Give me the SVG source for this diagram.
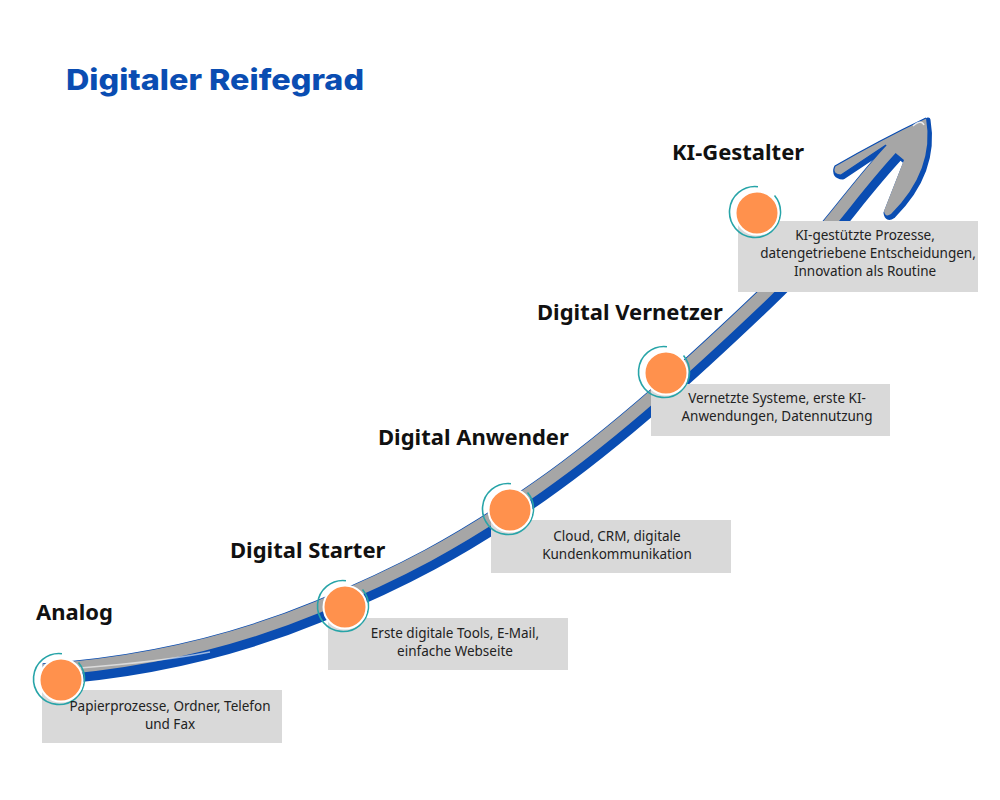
<svg xmlns="http://www.w3.org/2000/svg" width="1000" height="800" viewBox="0 0 1000 800">
<defs>
<style>
.title{font-family:Inter,"Liberation Sans",sans-serif;font-weight:800;font-size:29px;fill:#0a4db2}
.lbl{font-family:"Noto Sans","Liberation Sans",sans-serif;font-weight:700;font-size:22px;fill:#111}
.box{fill:#d9d9d9}
.txt{font-family:"Noto Sans","Liberation Sans",sans-serif;font-size:13.5px;fill:#222;text-anchor:middle}
.dot{fill:#ff914d;stroke:#fff;stroke-width:2}
.ring{fill:none;stroke:#27a4a8;stroke-width:1.6}
</style>
<path id="curve" d="M 45 675 C 150 668, 240 645, 320 612 S 460 548, 540 492 S 700 362, 765 300 C 830 238, 850 200, 897 150"/>
<path id="head" d="M 926 118 Q 880 140 835 166 Q 831 174 841 175 L 886 145 L 904 160 L 884 211 Q 885 218 891 214 Q 935 170 926 118 Z"/>
</defs>
<rect width="1000" height="800" fill="#fff"/>
<text class="title" x="66" y="90" textLength="298" lengthAdjust="spacingAndGlyphs">Digitaler Reifegrad</text>

<g id="connectors">
  <use href="#curve" fill="none" stroke="#0a4db2" stroke-width="20"/>
  <use href="#head" transform="translate(2,2)" fill="#0a4db2" stroke="#0a4db2" stroke-width="5" stroke-linejoin="round"/>
  <g transform="translate(-2,-5)">
    <use href="#curve" fill="none" stroke="#0a4db2" stroke-width="13.5"/>
    <use href="#curve" fill="none" stroke="#a6a6a6" stroke-width="12"/>
  </g>
  <use href="#head" fill="#a6a6a6"/>
  <path d="M 926 118 Q 880 140 835 166 Q 831 174 841 175 L 886 145" fill="none" stroke="#0a4db2" stroke-width="1.2" stroke-linejoin="round"/>
  <path d="M 80 668 C 130 664, 170 660, 210 652" fill="none" stroke="#fff" stroke-opacity="0.6" stroke-width="1.5"/>
  <path d="M 913 126 Q 921 119 924 125" fill="none" stroke="#fff" stroke-opacity="0.8" stroke-width="1.5"/>
</g>

<g id="node-analog">
  <text class="lbl" x="36" y="620">Analog</text>
  <rect class="box" x="42" y="690" width="240" height="53"/>
  <circle class="ring" cx="59" cy="679" r="25.5" stroke-dasharray="140 20" transform="rotate(-40 59 679)"/>
  <circle class="dot" cx="61" cy="680" r="21.5"/>
  <text class="txt" x="170" y="711">Papierprozesse, Ordner, Telefon</text>
  <text class="txt" x="170" y="729">und Fax</text>
</g>

<g id="node-starter">
  <text class="lbl" x="230" y="558">Digital Starter</text>
  <rect class="box" x="328" y="618" width="240" height="52"/>
  <circle class="ring" cx="343" cy="606" r="25.5" stroke-dasharray="140 20" transform="rotate(-40 343 606)"/>
  <circle class="dot" cx="345" cy="607" r="21.5"/>
  <text class="txt" x="455" y="638">Erste digitale Tools, E-Mail,</text>
  <text class="txt" x="455" y="656">einfache Webseite</text>
</g>

<g id="node-anwender">
  <text class="lbl" x="378" y="445">Digital Anwender</text>
  <rect class="box" x="491" y="520" width="240" height="53"/>
  <circle class="ring" cx="508" cy="509" r="25.5" stroke-dasharray="140 20" transform="rotate(-40 508 509)"/>
  <circle class="dot" cx="510" cy="510" r="21.5"/>
  <text class="txt" x="617" y="541">Cloud, CRM, digitale</text>
  <text class="txt" x="617" y="559">Kundenkommunikation</text>
</g>

<g id="node-vernetzer">
  <text class="lbl" x="537" y="320">Digital Vernetzer</text>
  <rect class="box" x="651" y="384" width="239" height="52"/>
  <circle class="ring" cx="664" cy="372" r="25.5" stroke-dasharray="140 20" transform="rotate(-40 664 372)"/>
  <circle class="dot" cx="666" cy="373" r="21.5"/>
  <text class="txt" x="777" y="403">Vernetzte Systeme, erste KI-</text>
  <text class="txt" x="777" y="421">Anwendungen, Datennutzung</text>
</g>

<g id="node-ki">
  <text class="lbl" x="672" y="160">KI-Gestalter</text>
  <rect class="box" x="738" y="221" width="240" height="71"/>
  <circle class="ring" cx="755" cy="212" r="25.5" stroke-dasharray="140 20" transform="rotate(-40 755 212)"/>
  <circle class="dot" cx="757" cy="213" r="21.5"/>
  <text class="txt" x="865" y="240">KI-gestützte Prozesse,</text>
  <text class="txt" x="868" y="258">datengetriebene Entscheidungen,</text>
  <text class="txt" x="865" y="276">Innovation als Routine</text>
</g>
</svg>
